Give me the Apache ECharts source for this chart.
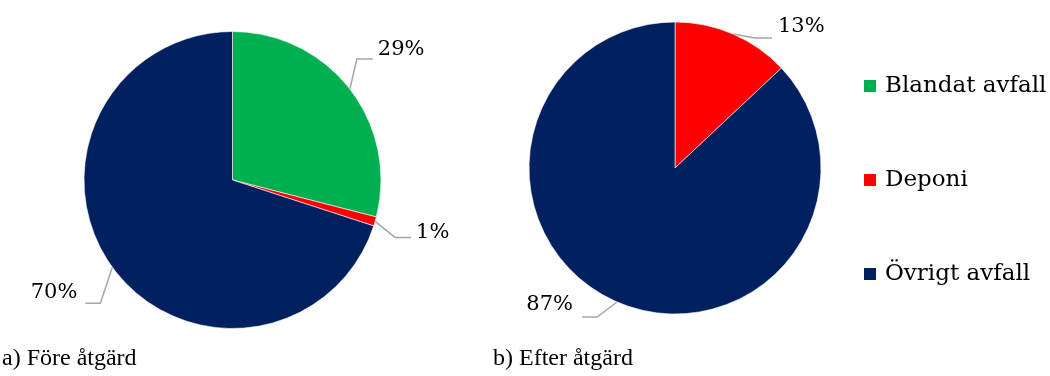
<!DOCTYPE html>
<html>
<head>
<meta charset="utf-8">
<script src="https://cdn.jsdelivr.net/npm/echarts@6/dist/echarts.min.js"></script>
<style>
  html, body { margin: 0; padding: 0; background: #fff; }
  #chart { width: 1050px; height: 376px; }
</style>
</head>
<body>
<div id="chart"></div>
<script>
// Waste fractions (%) before and after the measure
const categories = ['Blandat avfall', 'Deponi', 'Övrigt avfall'];
const beforeValues = [29, 1, 70];
const afterCategories = ['Deponi', 'Övrigt avfall'];
const afterValues = [13, 87];
const panelTitles = ['a) Före åtgärd', 'b) Efter åtgärd'];

const colorOf = {
  'Blandat avfall': '#00B050',
  'Deponi': '#FF0000',
  'Övrigt avfall': '#002060'
};

// Leader line shape for each label: elbow offset from the slice edge,
// horizontal run, gap to the text and vertical text shift.
const guides = [
  {
    'Blandat avfall': { dx1: 7, dy1: -30, run: 16, gap: 5, ty: -9 },
    'Deponi':         { dx1: 20, dy1: 16, run: 16, gap: 5, ty: -5 },
    'Övrigt avfall':  { dx1: -12, dy1: 36, run: -15, gap: 8, ty: -11 }
  },
  {
    'Deponi':         { dx1: 22, dy1: 4, run: 17, gap: 6, ty: -11 },
    'Övrigt avfall':  { dx1: -20, dy1: 15, run: -15, gap: 9, ty: -12 }
  }
];

const FONT = 'DejaVu Serif';

function toData(names, values) {
  return names.map((n, i) => ({
    name: n,
    value: values[i],
    itemStyle: { color: colorOf[n] }
  }));
}

function makePie(idx, names, values, center, radius) {
  return {
    type: 'pie',
    center: center,
    radius: radius,
    startAngle: 90,
    clockwise: true,
    animation: false,
    silent: true,
    itemStyle: { borderColor: '#ffffff', borderWidth: 0.6 },
    label: {
      show: true,
      position: 'outside',
      formatter: p => p.value + '%',
      fontFamily: FONT,
      fontSize: 21,
      color: '#000'
    },
    labelLine: {
      show: true,
      length: 10,
      length2: 10,
      lineStyle: { color: '#A6A6A6', width: 1.5 }
    },
    labelLayout: function (params) {
      const pts = params.labelLinePoints;
      const name = names[params.dataIndex];
      const g = guides[idx][name];
      if (!pts || !g) return {};
      const p0 = pts[0];
      const p1 = [p0[0] + g.dx1, p0[1] + g.dy1];
      const p2 = [p1[0] + g.run, p1[1]];
      const right = g.run > 0;
      return {
        x: p2[0] + (right ? g.gap : -g.gap),
        y: p2[1] + g.ty,
        align: right ? 'left' : 'right',
        verticalAlign: 'middle',
        labelLinePoints: [p0, p1, p2]
      };
    },
    data: toData(names, values)
  };
}

const chart = echarts.init(document.getElementById('chart'), null, { renderer: 'canvas' });

chart.setOption({
  backgroundColor: '#ffffff',
  animation: false,
  title: [
    {
      text: panelTitles[0], left: 2, top: 347, padding: 0,
      textStyle: { fontFamily: 'Liberation Serif', fontSize: 24, fontWeight: 'normal', color: '#000' }
    },
    {
      text: panelTitles[1], left: 493, top: 347, padding: 0,
      textStyle: { fontFamily: 'Liberation Serif', fontSize: 24, fontWeight: 'normal', color: '#000' }
    }
  ],
  legend: {
    data: categories,
    orient: 'vertical',
    left: 862,
    top: 74,
    padding: 0,
    icon: 'rect',
    itemWidth: 14,
    itemHeight: 14,
    itemGap: 70,
    selectedMode: false,
    textStyle: {
      fontFamily: FONT,
      fontSize: 23,
      color: '#000',
      lineHeight: 24,
      padding: [0, 0, 0, 3]
    }
  },
  series: [
    makePie(0, categories, beforeValues, [232.5, 180], 148.5),
    makePie(1, afterCategories, afterValues, [675, 168], 146)
  ]
});
</script>
</body>
</html>
